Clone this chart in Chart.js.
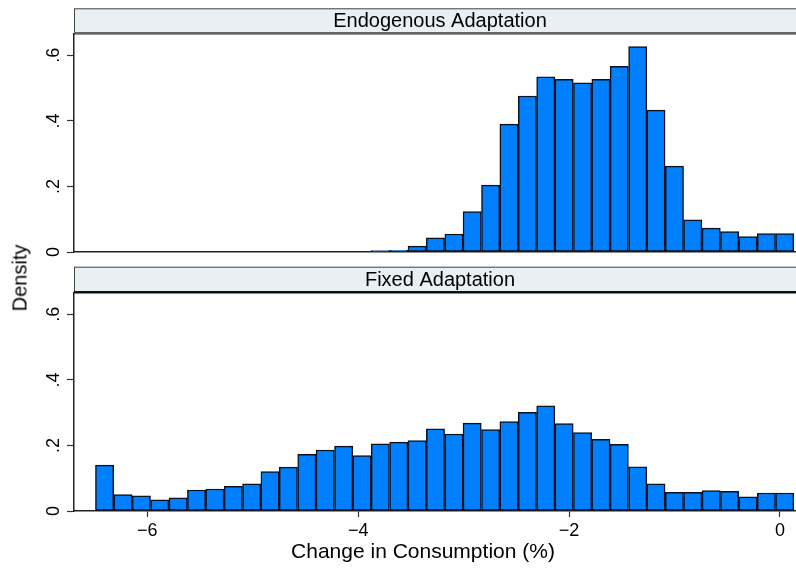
<!DOCTYPE html>
<html><head><meta charset="utf-8">
<script src="https://cdn.jsdelivr.net/npm/chart.js@4.4.1/dist/chart.umd.min.js"></script>
<style>
html,body{margin:0;padding:0;background:#fff;}
#wrap{position:relative;width:796px;height:571px;overflow:hidden;font-family:"Liberation Sans",Arial,sans-serif;background:#fff;}
canvas{position:absolute;left:0;}
#ytitle{position:absolute;left:20px;top:278px;transform:translate(-50%,-50%) rotate(-90deg);font-size:20px;white-space:nowrap;color:#000;}
#xtitle{position:absolute;left:423px;top:551px;transform:translate(-50%,-50%);font-size:21px;white-space:nowrap;color:#000;}
</style></head>
<body><div id="wrap">
<canvas id="cTop" width="796" height="262" style="top:0"></canvas>
<canvas id="cBot" width="796" height="309" style="top:262px"></canvas>
<div id="ytitle"></div><div id="xtitle"></div>
</div>
<script>
// ---- data ----
const binCenters = [-6.405,-6.230,-6.056,-5.882,-5.707,-5.533,-5.359,-5.184,-5.010,-4.836,
  -4.662,-4.487,-4.313,-4.138,-3.964,-3.790,-3.615,-3.441,-3.267,-3.092,
  -2.919,-2.744,-2.570,-2.395,-2.221,-2.047,-1.872,-1.698,-1.524,-1.349,
  -1.176,-1.001,-0.827,-0.652,-0.478,-0.304,-0.129,0.045];
const endogenousDensity = [null,null,null,null,null,null,null,null,null,null,
  null,null,null,null,null,0.004,0.005,0.018,0.043,0.055,
  0.123,0.204,0.390,0.476,0.534,0.527,0.516,0.527,0.566,0.627,
  0.433,0.262,0.098,0.073,0.062,0.047,0.056,0.056];
const fixedDensity = [0.140,0.050,0.046,0.034,0.040,0.064,0.067,0.075,0.083,0.120,
  0.134,0.173,0.186,0.198,0.169,0.205,0.210,0.215,0.251,0.235,
  0.268,0.248,0.273,0.301,0.321,0.267,0.239,0.219,0.203,0.135,
  0.083,0.057,0.057,0.062,0.060,0.043,0.055,0.055];
const panelTitles = ['Endogenous Adaptation','Fixed Adaptation'];
const yTickValues = [0,0.2,0.4,0.6];
const yTickLabels = ['0','.2','.4','.6'];
const xTickValues = [-6,-4,-2,0];
const xTickLabels = ['\u22126','\u22124','\u22122','0'];
const yAxisTitle = 'Density';
const xAxisTitle = 'Change in Consumption (%)';

document.getElementById('ytitle').textContent = yAxisTitle;
document.getElementById('xtitle').textContent = xAxisTitle;

const FONT = '"Liberation Sans", Arial, sans-serif';

const stripPlugin = {
  id: 'strip',
  beforeDraw(chart, args, o) {
    const ctx = chart.ctx, a = chart.chartArea;
    const w = chart.width - a.left + 10;
    ctx.save();
    ctx.fillStyle = '#e8f0f3';
    ctx.fillRect(a.left, o.top, w, o.bottom - o.top);
    ctx.strokeStyle = '#444';
    ctx.lineWidth = 1;
    ctx.strokeRect(a.left + 0.5, o.top + 0.5, w, o.bottom - o.top);
    ctx.fillStyle = o.lineColor;
    ctx.fillRect(a.left, a.top - 2, chart.width - a.left, 2.5);
    ctx.font = '20px ' + FONT;
    ctx.fillStyle = '#000';
    ctx.textAlign = 'center';
    ctx.textBaseline = 'middle';
    ctx.fillText(o.text, o.textX, (o.top + o.bottom) / 2 + 1);
    ctx.restore();
  }
};

function makePanel(id, values, title, showX, padTop, xH, stripTop, stripBottom, lineColor) {
  return new Chart(document.getElementById(id), {
    type: 'bar',
    data: {
      datasets: [{
        data: binCenters.map((x, i) => ({x: x, y: values[i]})),
        backgroundColor: '#0080ff',
        borderColor: '#0a1220',
        borderWidth: 1.5,
        borderSkipped: false,
        barPercentage: 1,
        categoryPercentage: 1
      }]
    },
    options: {
      responsive: false,
      animation: false,
      devicePixelRatio: 1,
      layout: {padding: {top: padTop, left: 0, right: 0, bottom: 0}},
      plugins: {
        legend: {display: false},
        tooltip: {enabled: false},
        strip: {text: title, top: stripTop, bottom: stripBottom, textX: 440, lineColor: lineColor}
      },
      scales: {
        x: {
          type: 'linear', min: -6.695, max: 0.152, offset: false,
          grid: {display: true, offset: false, drawOnChartArea: false, drawTicks: showX, tickLength: 6, tickColor: '#333', tickWidth: 1.2},
          border: {display: true, color: '#222', width: 1.5},
          ticks: {display: showX, autoSkip: false, maxRotation: 0, padding: 3, color: '#000',
                  font: {size: 18, family: FONT},
                  callback: (v) => { const k = xTickValues.indexOf(v); return k < 0 ? '' : xTickLabels[k]; }},
          afterBuildTicks: (s) => { s.ticks = xTickValues.map(v => ({value: v})); },
          afterFit: (s) => { s.height = xH; s.paddingLeft = 0; s.paddingRight = 0; }
        },
        y: {
          min: 0, max: 0.665,
          grid: {display: true, drawOnChartArea: false, drawTicks: true, tickLength: 7, tickColor: '#333', tickWidth: 1.2},
          border: {display: true, color: '#222', width: 1.5},
          ticks: {minRotation: 90, maxRotation: 90, crossAlign: 'center', padding: 5, color: '#000',
                  font: {size: 18, family: FONT},
                  callback: (v) => { const k = yTickValues.findIndex(t => Math.abs(t - v) < 1e-9); return k < 0 ? '' : yTickLabels[k]; }},
          afterBuildTicks: (s) => { s.ticks = yTickValues.map(v => ({value: v})); },
          afterFit: (s) => { s.width = 74; s.paddingTop = 0; s.paddingBottom = 0; }
        }
      }
    },
    plugins: [stripPlugin]
  });
}

makePanel('cTop', endogenousDensity, panelTitles[0], false, 34, 10, 8.3, 33.3, '#666');
makePanel('cBot', fixedDensity, panelTitles[1], true, 31, 60, 4.7, 29.7, '#111');
</script>
</body></html>
